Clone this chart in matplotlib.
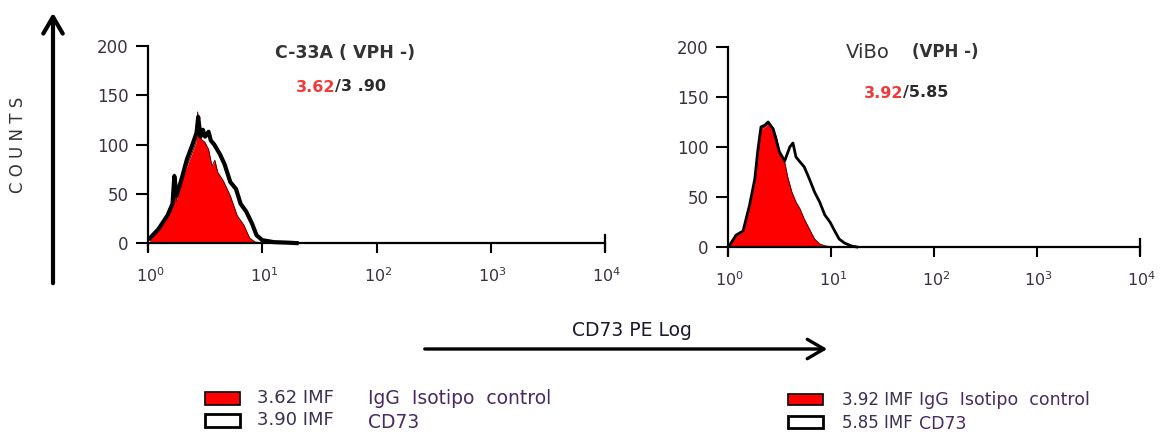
import matplotlib
matplotlib.use("Agg")
import matplotlib.pyplot as plt
from matplotlib.patches import Rectangle, FancyArrowPatch

plt.rcParams['font.family'] = ['DejaVu Sans']
plt.rcParams['mathtext.fontset'] = 'dejavusans'

W, H = 1161, 437

# ---- data (channel intensity, counts) ----
c33_iso_x = [1.04, 1.15, 1.33, 1.55, 1.64, 1.70, 1.76, 1.91, 2.14, 2.37, 2.63, 2.72, 2.82,
             2.95, 3.16, 3.39, 3.63, 3.85, 4.07, 4.57, 5.25, 6.03, 6.92, 7.76, 8.71, 10.7]
c33_iso_y = [3, 10, 18, 30, 45, 70, 42, 58, 75, 88, 102, 133, 110,
             105, 102, 95, 78, 84, 72, 63, 48, 28, 18, 5, 1, 0]
c33_cd73_x = [1.04, 1.23, 1.48, 1.64, 1.70, 1.78, 2.0, 2.19, 2.45, 2.66, 2.75, 2.88, 3.02,
              3.16, 3.39, 3.55, 3.80, 4.27, 4.68, 5.25, 5.89, 6.46, 7.24, 8.13, 8.91, 10.0,
              12.6, 16.6, 20.0]
c33_cd73_y = [5, 14, 28, 40, 68, 48, 68, 85, 100, 112, 128, 108, 115,
              108, 113, 104, 100, 90, 80, 62, 55, 40, 32, 20, 8, 3,
              1, 0.5, 0]

vibo_iso_x = [1.04, 1.20, 1.40, 1.62, 1.82, 1.95, 2.09, 2.29, 2.45, 2.75, 2.95, 3.16, 3.55,
              3.80, 4.17, 4.57, 5.01, 5.50, 6.17, 6.92, 7.76, 8.91, 10.5]
vibo_iso_y = [2, 12, 15, 40, 65, 95, 118, 120, 124, 117, 110, 95, 85,
              70, 55, 45, 38, 28, 18, 8, 3, 1, 0]
vibo_cd73_x = [1.04, 1.20, 1.40, 1.62, 1.82, 1.95, 2.09, 2.29, 2.45, 2.75, 3.16, 3.55, 3.98,
               4.27, 4.57, 5.01, 5.50, 6.17, 6.92, 7.76, 8.71, 9.77, 11.0, 12.0, 13.5, 15.8, 17.8]
vibo_cd73_y = [2, 12, 16, 42, 68, 97, 120, 122, 125, 118, 95, 86, 100,
               104, 90, 85, 80, 68, 55, 45, 32, 25, 15, 8, 4, 1, 0]

yticks = [0, 50, 100, 150, 200]
xticks = [1, 10, 100, 1000, 10000]
xticklabels = [r'$10^{0}$', r'$10^{1}$', r'$10^{2}$', r'$10^{3}$', r'$10^{4}$']

panels = [
    dict(title=[('C-33A ( VPH -)', 'bold', 12.5, 345, 'center')],
         iso_val='3.62', cd_val='/3 .90',
         iso=(c33_iso_x, c33_iso_y), cd=(c33_cd73_x, c33_cd73_y),
         box=(148, 605, 251, 46), lw=3.0,
         title_y=53, val_xy=(335, 87)),
    dict(title=[('ViBo', 'normal', 14, 846, 'left'), ('(VPH -)', 'bold', 12, 912, 'left')],
         iso_val='3.92', cd_val='/5.85',
         iso=(vibo_iso_x, vibo_iso_y), cd=(vibo_cd73_x, vibo_cd73_y),
         box=(728, 1140, 255, 47), lw=2.0,
         title_y=52, val_xy=(903, 93)),
]

fig = plt.figure(figsize=(W / 100, H / 100), dpi=100)
fig.patch.set_facecolor('white')


def fx(x):
    return x / W


def fy(y):
    return 1 - y / H


tick_col = '#3a3042'

for p in panels:
    x0, x1, yb, yt = p['box']
    ax = fig.add_axes([fx(x0), fy(yb), fx(x1 - x0), (yb - yt) / H])
    ax.set_xscale('log')
    ax.set_xlim(1, 1e4)
    ax.set_ylim(-8, 200)
    ax.fill_between(p['iso'][0], 0, p['iso'][1], color='#ff0000', lw=0, zorder=2)
    ax.plot(p['iso'][0], p['iso'][1], color='#5a0000', lw=0.7, zorder=2)
    ax.plot(p['cd'][0], p['cd'][1], color='black', lw=p['lw'], zorder=3)
    for s in ['top', 'right']:
        ax.spines[s].set_visible(False)
    ax.spines['bottom'].set_position(('data', 0))
    ax.spines['bottom'].set_linewidth(1.6)
    ax.spines['left'].set_linewidth(1.6)
    ax.set_yticks(yticks)
    ax.set_yticklabels([str(v) for v in yticks], fontsize=12, color=tick_col)
    ax.set_xticks(xticks)
    ax.set_xticklabels([])
    ax.xaxis.set_minor_locator(matplotlib.ticker.NullLocator())
    ax.tick_params(axis='y', length=9, width=1.5, pad=5)
    ax.tick_params(axis='x', length=7, width=1.5, direction='out')
    ax.plot([1e4, 1e4], [-8, 8], color='black', lw=1.6, clip_on=False)
    for xv, lab in zip(xticks, xticklabels):
        ax.text(xv * 1.04, -33, lab, ha='center', va='center', fontsize=11.5, color=tick_col,
                clip_on=False)
    ax.set_facecolor('none')
    for txt, wt, fs, tx, ha in p['title']:
        fig.text(fx(tx), fy(p['title_y']), txt, ha=ha, va='center', fontsize=fs,
                 fontweight=wt, color='#333333')
    vx, vy = p['val_xy']
    fig.text(fx(vx), fy(vy), p['iso_val'], ha='right', va='center', fontsize=11.5,
             fontweight='bold', color='#f03a3a')
    fig.text(fx(vx), fy(vy), p['cd_val'], ha='left', va='center', fontsize=11.5,
             fontweight='bold', color='#2a2a2a')

# COUNTS axis
fig.text(fx(18), fy(145), 'C O U N T S', rotation=90, ha='center', va='center',
         fontsize=12, color='#333333')
fig.add_artist(FancyArrowPatch(
    (fx(53), fy(286)), (fx(53), fy(10)), transform=fig.transFigure,
    arrowstyle='->,head_length=0.6,head_width=0.35', lw=3, color='black',
    mutation_scale=20))

# CD73 PE Log axis
fig.text(fx(632), fy(330), 'CD73 PE Log', ha='center', va='center', fontsize=13.5,
         color='#1a1a2a')
fig.add_artist(FancyArrowPatch(
    (fx(422), fy(349)), (fx(830), fy(349)), transform=fig.transFigure,
    arrowstyle='->,head_length=0.6,head_width=0.35', lw=2.4, color='black',
    mutation_scale=20))

# legends
leg_col = '#3b2f52'
legends = [
    dict(boxx=205, fs=13, rows=[(392, 405, 398, '3.62 IMF', 'IgG  Isotipo  control', 398),
                                (414, 427, 420, '3.90 IMF', 'CD73', 423)],
         tx=257, lx=368),
    dict(boxx=788, fs=12, rows=[(394, 405, 400, '3.92 IMF', 'IgG  Isotipo  control', 400),
                                (416, 428, 423, '5.85 IMF', 'CD73', 424)],
         tx=842, lx=919),
]
for lg in legends:
    for i, (y0, y1, ty, t1, t2, ly) in enumerate(lg['rows']):
        fc = '#ff0000' if i == 0 else 'white'
        lw = 1.2 if i == 0 else 2.0
        fig.add_artist(Rectangle((fx(lg['boxx']), fy(y1)), fx(35), (y1 - y0) / H,
                                 transform=fig.transFigure, facecolor=fc,
                                 edgecolor='black', lw=lw))
        fig.text(fx(lg['tx']), fy(ty), t1, ha='left', va='center', fontsize=lg['fs'],
                 color=leg_col)
        fig.text(fx(lg['lx']), fy(ly), t2, ha='left', va='center', fontsize=lg['fs'] + 0.5,
                 color='#4a2a62')

fig.savefig('out.png', dpi=100, facecolor='white')
